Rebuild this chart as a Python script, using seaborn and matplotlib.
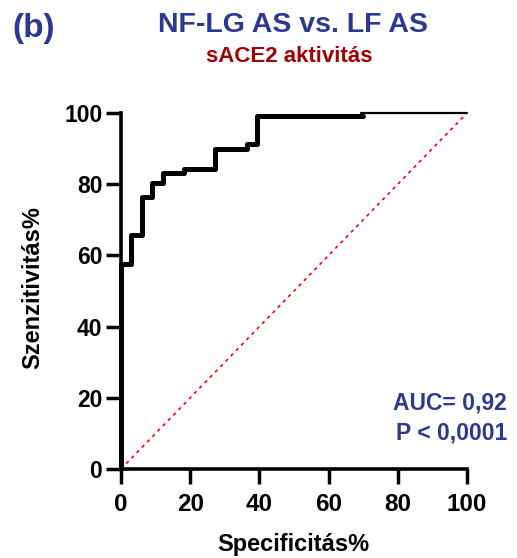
import matplotlib
matplotlib.use("Agg")
import matplotlib.pyplot as plt
import seaborn as sns
import pandas as pd

# ROC data (100 - specificity %, sensitivity %)
fpr = [0, 0, 2.9, 6.0, 8.9, 12.0, 18.2, 27.2, 36.3, 39.4, 70.0]
sens = [0, 57.7, 65.7, 76.4, 80.4, 83.2, 84.4, 89.8, 91.2, 99.1, 99.1]
tail_x = [69.5, 100]
tail_y = [100, 100]
ref_x = [0, 100]
ref_y = [0, 100]
ticks = [0, 20, 40, 60, 80, 100]

title = "NF-LG AS vs. LF AS"
subtitle = "sACE2 aktivitás"
panel = "(b)"
auc_text = "AUC= 0,92\nP < 0,0001"

BLUE = "#2B3990"
RED = "#A00000"

sns.set_style("ticks")
plt.rcParams["font.family"] = ["Liberation Sans", "DejaVu Sans"]
plt.rcParams["font.weight"] = "bold"
plt.rcParams["text.color"] = "black"
plt.rcParams["axes.labelcolor"] = "black"
plt.rcParams["xtick.color"] = "black"
plt.rcParams["ytick.color"] = "black"

fig = plt.figure(figsize=(5.17, 5.58), dpi=100)
ax = fig.add_axes([121/517, 1-469/558, (467-121)/517, (469-113)/558])

df = pd.DataFrame({"x": fpr, "y": sens})
sns.lineplot(data=df, x="x", y="y", ax=ax, sort=False, estimator=None,
             color="black", lw=3.6, drawstyle="steps-post", clip_on=False,
             zorder=3)
ax.plot(tail_x, tail_y, color="black", lw=1.6, clip_on=False, zorder=3)
ax.plot(ref_x, ref_y, color="red", lw=1.2, ls=(0, (2, 2.5)), clip_on=False,
        zorder=2)

ax.set_xlim(0, 100)
ax.set_ylim(0, 100)
ax.set_xticks(ticks)
ax.set_yticks(ticks)
ax.tick_params(axis="both", length=10.5, width=2.5, colors="black")
ax.tick_params(axis="x", labelsize=17.5, pad=7)
ax.tick_params(axis="y", labelsize=16.5, pad=3)
for lab in ax.get_xticklabels() + ax.get_yticklabels():
    lab.set_fontweight("bold")
for s in ["left", "bottom"]:
    ax.spines[s].set_linewidth(2.6)
    ax.spines[s].set_color("black")
for s in ["top", "right"]:
    ax.spines[s].set_visible(False)

ax.set_xlabel("")
ax.set_ylabel("")
fig.text(293/517, 1-545/558, "Specificitás%", ha="center", va="center",
         fontsize=17, fontweight="bold")
fig.text(33/517, 1-288/558, "Szenzitivitás%", ha="center", va="center",
         rotation=90, fontsize=17, fontweight="bold")

fig.text(293/517, 1-25/558, title, ha="center", va="center", color=BLUE,
         fontsize=20.5, fontweight="bold")
fig.text(289/517, 1-57/558, subtitle, ha="center", va="center", color=RED,
         fontsize=16, fontweight="bold")
fig.text(12/517, 1-29/558, panel, ha="left", va="center", color=BLUE,
         fontsize=24, fontweight="bold")
fig.text(507/517, 1-418/558, auc_text, ha="right", va="center", color=BLUE,
         fontsize=16.5, fontweight="bold", linespacing=1.35)

fig.savefig("out.png", dpi=100)
